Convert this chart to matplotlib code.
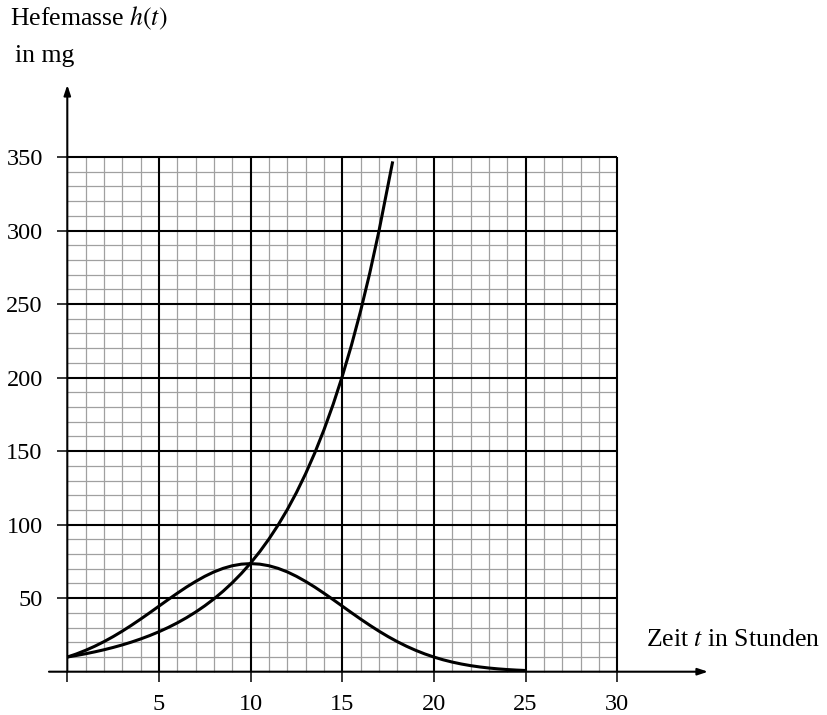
import numpy as np
import matplotlib
matplotlib.use("Agg")
import matplotlib.pyplot as plt

plt.rcParams["font.family"] = ["Liberation Serif", "DejaVu Serif"]
plt.rcParams["mathtext.fontset"] = "stix"

# Hefemasse in mg, every half hour
t_exp = list(np.arange(0, 18, 0.5)) + [17.75]
h_exp = [10.0, 11.05, 12.21, 13.5, 14.92, 16.49, 18.22, 20.14, 22.26, 24.6,
         27.18, 30.04, 33.2, 36.69, 40.55, 44.82, 49.53, 54.74, 60.5, 66.86,
         73.89, 81.66, 90.25, 99.74, 110.23, 121.82, 134.64, 148.8, 164.45,
         181.74, 200.86, 221.98, 245.33, 271.13, 299.64, 331.15, 347.0]

t_bell = np.arange(0, 25.5, 0.5)
h_bell = [9.95, 12.09, 14.55, 17.33, 20.44, 23.86, 27.58, 31.58, 35.78,
          40.13, 44.58, 49.02, 53.36, 57.53, 61.37, 64.86, 67.86, 70.27,
          72.05, 73.13, 73.5, 73.13, 72.05, 70.27, 67.86, 64.86, 61.37,
          57.53, 53.36, 49.02, 44.58, 40.13, 35.78, 31.58, 27.58, 23.86,
          20.44, 17.33, 14.55, 12.09, 9.95, 8.1, 6.54, 5.22, 4.12, 3.23,
          2.5, 1.92, 1.46, 1.1, 0.82]

x_ticks = [0, 5, 10, 15, 20, 25, 30]
x_labels = ["", "5", "10", "15", "20", "25", "30"]
y_ticks = [50, 100, 150, 200, 250, 300, 350]

W, H = 827, 715
fig = plt.figure(figsize=(W / 100, H / 100), dpi=100)
ax = fig.add_axes([0, 0, 1, 1])
ax.set_xlim(-3.671, 41.44)
ax.set_ylim(-29.44, 456.75)

for s in ax.spines.values():
    s.set_visible(False)
ax.spines["left"].set_position(("data", 0))
ax.spines["bottom"].set_position(("data", 0))

# grid, only inside 0..30 x 0..350
minor_x = [v for v in range(1, 30) if v % 5]
minor_y = [v for v in range(10, 350, 10) if v % 50]
ax.vlines(minor_x, 0, 350, color="#a0a0a0", lw=0.9, zorder=1)
ax.hlines(minor_y, 0, 30, color="#a0a0a0", lw=0.9, zorder=1)
ax.vlines(x_ticks[1:], 0, 350, color="black", lw=1.5, zorder=2)
ax.hlines(y_ticks, 0, 30, color="black", lw=1.5, zorder=2)

# axes with arrows
arrow = dict(arrowstyle="-|>,head_length=0.6,head_width=0.2", color="black",
             lw=1.5, shrinkA=0, shrinkB=0)
ax.annotate("", xy=(34.95, 0), xytext=(-1, 0), arrowprops=arrow, zorder=3)
ax.annotate("", xy=(0, 399), xytext=(0, 0), arrowprops=arrow, zorder=3)

ax.plot(t_exp, h_exp, color="black", lw=2.2, zorder=4,
        solid_capstyle="butt")
ax.plot(t_bell, h_bell, color="black", lw=2.2, zorder=4,
        solid_capstyle="butt")

ax.set_xticks(x_ticks)
ax.set_xticklabels(x_labels)
ax.set_yticks(y_ticks)
ax.tick_params(direction="out", length=7.2, width=1.1, labelsize=17.5,
               color="black")
ax.tick_params(axis="x", pad=9)
ax.tick_params(axis="y", pad=10.5)

fig.text(10 / W, 1 - 25 / H, "Hefemasse $h(t)$", fontsize=18.5,
         va="baseline", ha="left")
fig.text(15 / W, 1 - 62 / H, "in mg", fontsize=18.5, va="baseline",
         ha="left")
fig.text(646 / W, 1 - 646 / H, "Zeit $t$ in Stunden", fontsize=18.5,
         va="baseline", ha="left")

fig.savefig("out.png", dpi=100)
plt.close(fig)
